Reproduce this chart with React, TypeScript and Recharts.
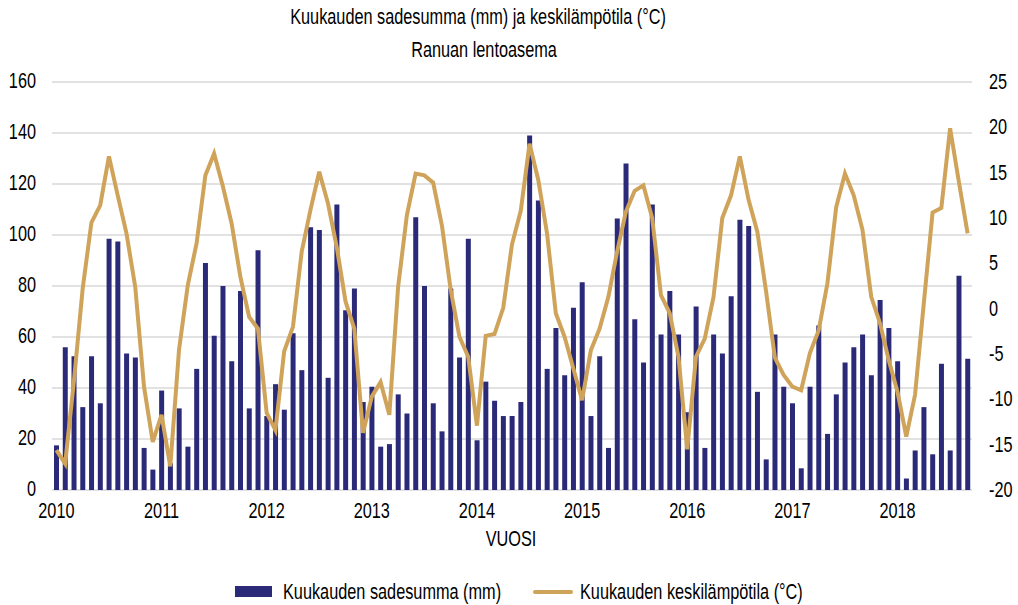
import React from 'react';
import { ComposedChart, Bar, Line, XAxis, YAxis, CartesianGrid } from 'recharts';

const FONT = "'Liberation Sans', Arial, sans-serif";
const FS = 22;
const SX = 0.74; // horizontal condensing to mimic a condensed face

const years = [2010, 2011, 2012, 2013, 2014, 2015, 2016, 2017, 2018];
const monthsInLastYear = 9;

// Monthly precipitation (mm), Jan 2010 – Sep 2018
const precipitationMm = [
  17.5, 56, 52.5, 32.5, 52.5, 34, 98.5, 97.5, 53.5, 52, 16.5, 8,
  39, 10.5, 32, 17, 47.5, 89, 60.5, 80, 50.5, 78, 32, 94,
  29, 41.5, 31.5, 61.5, 47, 103, 102, 44, 112, 70.5, 79, 34.5,
  40.5, 17, 18, 37.5, 30, 107, 80, 34, 23, 79, 52, 98.5,
  19.5, 42.5, 35, 29, 29, 34.5, 139, 113.5, 47.5, 63.5, 45, 71.5,
  81.5, 29, 52.5, 16.5, 106.5, 128, 67, 50, 112, 61, 78, 61,
  30.5, 72, 16.5, 61, 53.5, 76, 106, 103.5, 38.5, 12, 61, 40.5,
  34, 8.5, 40.5, 64.5, 22, 37.5, 50, 56, 61, 45, 74.5, 63.5,
  50.5, 4.5, 15.5, 32.5, 14, 49.5, 15.5, 84, 51.5,
];

// Monthly mean temperature (°C), Jan 2010 – Sep 2018
const temperatureC = [
  -15.6, -17.1, -8, 2.2, 9.5, 11.4, 16.8, 12.5, 8.3, 2.4, -8.6, -14.7,
  -11.7, -17.4, -4.5, 2.6, 7.2, 14.7, 17.1, 13.5, 9.4, 3.5, -0.9, -2.2,
  -11.5, -13.4, -4.7, -2, 6.3, 10.9, 15.1, 11.6, 6.8, 0.8, -2.2, -13.7,
  -9.7, -8.1, -11.7, 2.4, 10.3, 14.9, 14.7, 13.9, 9.2, 2.1, -3.1, -5.3,
  -12.9, -3, -2.8, 0.1, 7.1, 10.8, 18.2, 14.2, 8.3, -0.5, -3.1, -6.6,
  -10.1, -4.6, -2.2, 1.3, 6.3, 10.7, 13, 13.6, 10, 1.5, -0.5, -5.3,
  -15.5, -5.3, -3.3, 1.3, 10, 12.5, 16.8, 12, 8.5, 1.9, -5.4, -7.3,
  -8.6, -9, -4.9, -2.4, 2.8, 11.2, 14.9, 12.5, 8.7, 1.3, -1.6, -5.7,
  -9.2, -14.1, -9.5, 0.6, 10.6, 11.1, 19.9, 14, 8.3,
];

const leftTicks = [0, 20, 40, 60, 80, 100, 120, 140, 160];
const rightTicks = [-20, -15, -10, -5, 0, 5, 10, 15, 20, 25];

const titleLine1 = 'Kuukauden sadesumma (mm) ja keskilämpötila (°C)';
const titleLine2 = 'Ranuan lentoasema';
const xAxisTitle = 'VUOSI';
const barName = 'Kuukauden sadesumma (mm)';
const lineName = 'Kuukauden keskilämpötila (°C)';

const BAR_COLOR = '#2B2A78';
const LINE_COLOR = '#CFA35A';

const months: string[] = [];
years.forEach((y, yi) => {
  const n = yi === years.length - 1 ? monthsInLastYear : 12;
  for (let m = 1; m <= n; m++) months.push(`${y}-${String(m).padStart(2, '0')}`);
});

const data = months.map((month, i) => ({
  month,
  rain: precipitationMm[i],
  temp: temperatureC[i],
}));

const LEFT_LABEL_X = 36;
const RIGHT_LABEL_X = 989;
const X_LABEL_BASELINE = 518;

const CondSvgText = ({ x, y, anchor, children }: any) => (
  <g transform={`translate(${x},${y})`}>
    <text transform={`scale(${SX},1)`} x={0} y={0} textAnchor={anchor} fontSize={FS} fontFamily={FONT} fill="#000">
      {children}
    </text>
  </g>
);

const XTick = (props: any) => {
  const { x, payload } = props;
  return <CondSvgText x={x} y={X_LABEL_BASELINE} anchor="middle">{String(payload.value).slice(0, 4)}</CondSvgText>;
};
const LeftTick = (props: any) => {
  const { y, payload } = props;
  return <CondSvgText x={LEFT_LABEL_X} y={y + 6} anchor="end">{payload.value}</CondSvgText>;
};
const RightTick = (props: any) => {
  const { y, payload } = props;
  return <CondSvgText x={RIGHT_LABEL_X} y={y + 7} anchor="start">{payload.value}</CondSvgText>;
};

const baseText: React.CSSProperties = {
  position: 'absolute',
  fontFamily: FONT,
  fontSize: FS,
  color: '#000',
  whiteSpace: 'nowrap',
  lineHeight: '24px',
};

const Centered = ({ cx, top, children }: any) => (
  <div style={{ ...baseText, left: cx, top, transform: `translateX(-50%) scaleX(${SX})` }}>{children}</div>
);
const LeftText = ({ left, top, children }: any) => (
  <div style={{ ...baseText, left, top, transformOrigin: '0 50%', transform: `scaleX(${SX})` }}>{children}</div>
);

export default function App() {
  return (
    <div style={{ position: 'absolute', left: 0, top: 0, width: 1018, height: 605, background: '#fff', overflow: 'hidden' }}>
      <Centered cx={478} top={5}>{titleLine1}</Centered>
      <Centered cx={484} top={38}>{titleLine2}</Centered>
      <ComposedChart
        width={1018}
        height={605}
        data={data}
        margin={{ top: 82, right: 0, bottom: 85, left: 0 }}
      >
        <CartesianGrid yAxisId="left" vertical={false} stroke="#d9d9d9" strokeWidth={1.5} />
        <XAxis
          dataKey="month"
          interval={11}
          tickLine={false}
          axisLine={false}
          height={30}
          tick={<XTick />}
        />
        <YAxis
          yAxisId="left"
          domain={[0, 160]}
          ticks={leftTicks}
          width={52}
          axisLine={false}
          tickLine={false}
          tick={<LeftTick />}
        />
        <YAxis
          yAxisId="right"
          orientation="right"
          domain={[-20, 25]}
          ticks={rightTicks}
          width={46}
          axisLine={false}
          tickLine={false}
          tick={<RightTick />}
        />
        <Bar yAxisId="left" dataKey="rain" name={barName} fill={BAR_COLOR} barSize={5} isAnimationActive={false} />
        <Line
          yAxisId="right"
          dataKey="temp"
          name={lineName}
          type="linear"
          stroke={LINE_COLOR}
          strokeWidth={4}
          dot={false}
          activeDot={false}
          isAnimationActive={false}
        />
      </ComposedChart>
      <Centered cx={511} top={527}>{xAxisTitle}</Centered>
      <div style={{ position: 'absolute', left: 235, top: 586, width: 37, height: 11, background: BAR_COLOR }} />
      <LeftText left={283} top={580}>{barName}</LeftText>
      <div style={{ position: 'absolute', left: 533, top: 590, width: 40, height: 4, borderRadius: 2, background: LINE_COLOR }} />
      <LeftText left={580} top={580}>{lineName}</LeftText>
    </div>
  );
}
